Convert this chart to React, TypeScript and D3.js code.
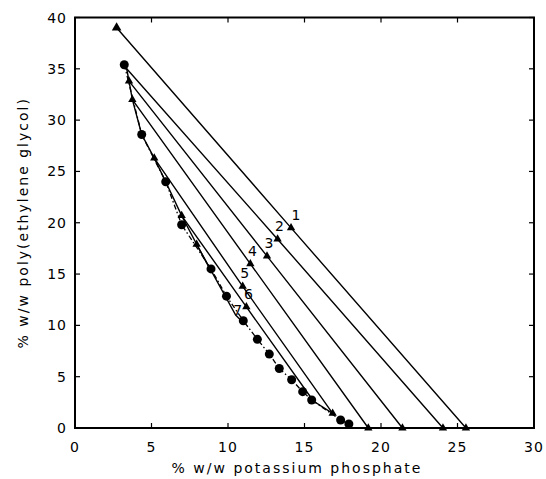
import React from 'react';
import * as d3 from 'd3';

const xTicks = [0, 5, 10, 15, 20, 25, 30];
const yTicks = [0, 5, 10, 15, 20, 25, 30, 35, 40];
const xTitle = '% w/w potassium phosphate';
const yTitle = '% w/w poly(ethylene glycol)';

// binodal (circles, dash-dot)
const circleX = [3.22, 4.36, 5.93, 6.97, 8.89, 9.9, 11.0, 11.92, 12.7, 13.35, 14.16, 14.88, 15.47, 17.36, 17.9];
const circleY = [35.4, 28.6, 24.0, 19.8, 15.5, 12.85, 10.45, 8.64, 7.2, 5.8, 4.7, 3.54, 2.73, 0.78, 0.39];

// binodal (triangles, solid)
const triCurveX = [3.22, 3.38, 3.53, 3.75, 4.36, 5.18, 5.93, 6.97, 7.95, 8.89];
const triCurveY = [35.4, 35.0, 33.8, 32.0, 28.6, 26.3, 24.0, 20.7, 17.9, 15.3];
const lowerCurveX = [15.47, 16.84];
const lowerCurveY = [2.73, 1.43];

// tie lines
const tieLabels = ['1', '2', '3', '4', '5', '6', '7'];
const tieTopX = [2.72, 3.38, 3.53, 3.75, 5.18, 6.97, 7.95];
const tieTopY = [39.0, 35.0, 33.8, 32.0, 26.3, 20.7, 17.9];
const tieMidX = [14.12, 13.24, 12.55, 11.46, 10.96, 11.2, 10.5];
const tieMidY = [19.5, 18.4, 16.75, 16.0, 13.8, 11.8, 11.0];
const tieBotX = [25.55, 24.05, 21.4, 19.17, 16.84, 15.5, 10.9];
const tieBotY = [0, 0, 0, 0, 1.43, 2.8, 10.4];
const tieBotShown = [true, true, true, true, true, false, false];
const tieTopShown = [true, false, true, true, true, true, true];

const W = 546;
const H = 479;
const ML = 75, MR = 534, MT = 17.5, MB = 428;
const FONT = '"DejaVu Sans", sans-serif';

export default function App() {
  const x = d3.scaleLinear().domain([0, 30]).range([ML, MR]);
  const y = d3.scaleLinear().domain([0, 40]).range([MB, MT]);
  const line = d3.line<[number, number]>().x(d => x(d[0])).y(d => y(d[1]));
  const tri = d3.symbol().type(d3.symbolTriangle).size(30)();
  const triBig = d3.symbol().type(d3.symbolTriangle).size(40)();

  const circlePts: [number, number][] = circleX.map((v, i) => [v, circleY[i]]);
  const triCurvePts: [number, number][] = triCurveX.map((v, i) => [v, triCurveY[i]]);
  const lowerPts: [number, number][] = lowerCurveX.map((v, i) => [v, lowerCurveY[i]]);

  const tl = 5;
  return (
    <svg width={W} height={H} style={{ position: 'absolute', left: 0, top: 0, background: '#fff' }}>
      <rect x={0} y={0} width={W} height={H} fill="#fff" />
      {/* frame */}
      <rect x={ML} y={MT} width={MR - ML} height={MB - MT} fill="none" stroke="#000" strokeWidth={2} />
      {/* ticks */}
      {xTicks.map(t => (
        <g key={'xt' + t}>
          <line x1={x(t)} x2={x(t)} y1={MB} y2={MB - tl} stroke="#000" strokeWidth={1.2} />
          <line x1={x(t)} x2={x(t)} y1={MT} y2={MT + tl} stroke="#000" strokeWidth={1.2} />
          <text x={x(t)} y={452} fontFamily={FONT} fontSize={14} textAnchor="middle" letterSpacing={1}>{t}</text>
        </g>
      ))}
      {yTicks.map(t => (
        <g key={'yt' + t}>
          <line x1={ML} x2={ML + tl} y1={y(t)} y2={y(t)} stroke="#000" strokeWidth={1.2} />
          <line x1={MR} x2={MR - tl} y1={y(t)} y2={y(t)} stroke="#000" strokeWidth={1.2} />
          <text x={67} y={y(t) + 5} fontFamily={FONT} fontSize={14} textAnchor="end" letterSpacing={1}>{t}</text>
        </g>
      ))}
      <text x={297} y={473} fontFamily={FONT} fontSize={14} textAnchor="middle" letterSpacing={2}>{xTitle}</text>
      <text transform={`translate(28,${(MT + MB) / 2}) rotate(-90)`} fontFamily={FONT} fontSize={14} textAnchor="middle" letterSpacing={2}>{yTitle}</text>

      {/* binodal curves */}
      <path d={line(circlePts) || ''} fill="none" stroke="#000" strokeWidth={1.3} strokeDasharray="5,2.5,1.5,2.5" />
      <path d={line(triCurvePts) || ''} fill="none" stroke="#000" strokeWidth={1.4} />
      <path d={line(lowerPts) || ''} fill="none" stroke="#000" strokeWidth={1.4} />

      {/* tie lines */}
      {tieLabels.map((lab, i) => {
        const pts: [number, number][] = [[tieTopX[i], tieTopY[i]], [tieMidX[i], tieMidY[i]], [tieBotX[i], tieBotY[i]]];
        return <path key={'tie' + lab} d={line(pts) || ''} fill="none" stroke="#000" strokeWidth={1.4} />;
      })}
      {tieLabels.map((lab, i) => (
        <g key={'tm' + lab}>
          {tieTopShown[i] && <path d={i === 0 ? triBig : tri} transform={`translate(${x(tieTopX[i])},${y(tieTopY[i])})`} fill="#000" />}
          {i < 6 && <path d={tri} transform={`translate(${x(tieMidX[i])},${y(tieMidY[i])})`} fill="#000" />}
          {tieBotShown[i] && <path d={tri} transform={`translate(${x(tieBotX[i])},${y(tieBotY[i])})`} fill="#000" />}
          <text x={x(tieMidX[i]) + (i === 0 ? 5 : 2)} y={y(tieMidY[i]) - (i === 6 ? 0 : 8)} fontFamily={FONT} fontSize={14} textAnchor="middle" fill="#000">{lab}</text>
        </g>
      ))}
      {circlePts.map((p, i) => (
        <circle key={'c' + i} cx={x(p[0])} cy={y(p[1])} r={4.5} fill="#000" />
      ))}
    </svg>
  );
}
